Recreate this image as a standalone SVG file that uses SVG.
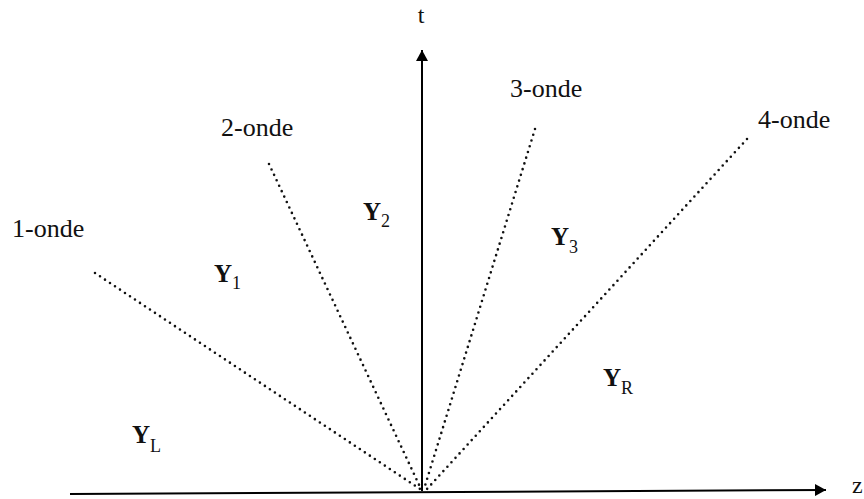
<svg xmlns="http://www.w3.org/2000/svg" width="864" height="499" viewBox="0 0 864 499">
<defs>
<marker id="arr" markerWidth="12" markerHeight="12" refX="11" refY="6" orient="auto" markerUnits="userSpaceOnUse">
<path d="M0,0 L11,6 L0,12 Z" fill="#000"/>
</marker>
<style>
.axis{stroke:#000;stroke-width:2;fill:none}
.wave{stroke:#111;stroke-width:2.6;stroke-linecap:round;stroke-dasharray:0 6;fill:none}
text{font-family:'Liberation Serif','Times New Roman',serif;fill:#111}
.lbl{font-size:26px}
.ax{font-size:24px}
.Y{font-size:25px;font-weight:bold}
.sub{font-size:18px}
</style>
</defs>
<rect width="864" height="499" fill="#fff"/>
<g id="connectors">
<line class="axis" x1="70" y1="494" x2="826" y2="490" marker-end="url(#arr)"/>
<line class="axis" x1="422" y1="491" x2="422" y2="50" marker-end="url(#arr)"/>
<line class="wave" x1="95" y1="273" x2="420" y2="489"/>
<line class="wave" x1="269" y1="164" x2="421" y2="489"/>
<line class="wave" x1="535" y1="129" x2="424" y2="489"/>
<line class="wave" x1="747" y1="139" x2="427" y2="489"/>
</g>
<g id="axis-t"><text class="ax" x="421" y="23" text-anchor="middle">t</text></g>
<g id="axis-z"><text class="ax" x="852" y="493">z</text></g>
<g id="wave1"><text class="lbl" x="12" y="237">1-onde</text></g>
<g id="wave2"><text class="lbl" x="221" y="136">2-onde</text></g>
<g id="wave3"><text class="lbl" x="510" y="97">3-onde</text></g>
<g id="wave4"><text class="lbl" x="758" y="128">4-onde</text></g>
<g id="YL"><text class="Y" x="132" y="443">Y</text><text class="sub" x="150" y="452">L</text></g>
<g id="Y1"><text class="Y" x="214" y="282">Y</text><text class="sub" x="232" y="289">1</text></g>
<g id="Y2"><text class="Y" x="363" y="220">Y</text><text class="sub" x="381" y="227">2</text></g>
<g id="Y3"><text class="Y" x="551" y="245">Y</text><text class="sub" x="569" y="253">3</text></g>
<g id="YR"><text class="Y" x="603" y="386">Y</text><text class="sub" x="621" y="394">R</text></g>
</svg>
